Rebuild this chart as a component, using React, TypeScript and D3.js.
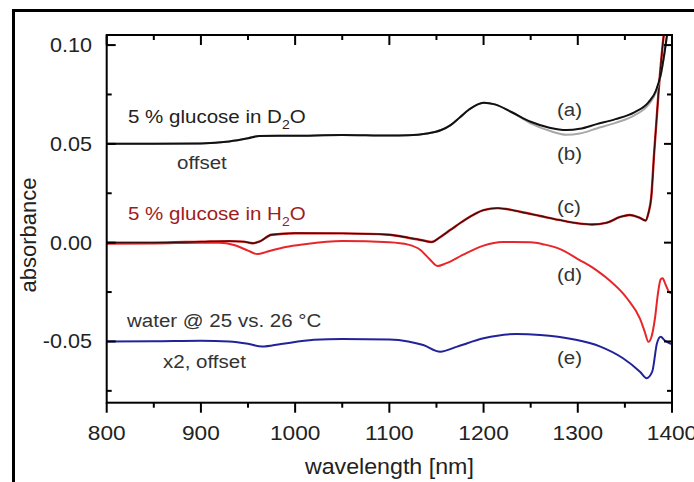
import React from 'react';
import * as d3 from 'd3';

// ---- data (wavelength in nm, absorbance) ----
const aNm = [800, 850, 900, 930, 950, 962, 1000, 1050, 1100, 1120, 1140, 1155, 1165, 1175, 1185, 1200, 1212, 1230, 1250, 1270, 1288, 1302, 1320, 1340, 1360, 1375, 1383, 1388, 1392, 1395, 1397];
const aAbs = [0.0500, 0.0500, 0.0502, 0.0512, 0.0528, 0.0540, 0.0541, 0.0545, 0.0542, 0.0543, 0.0552, 0.0570, 0.0595, 0.0635, 0.0675, 0.0708, 0.0700, 0.0660, 0.0612, 0.0582, 0.0570, 0.0576, 0.0600, 0.0625, 0.0660, 0.0710, 0.0770, 0.0850, 0.0960, 0.1060, 0.1120];

const bNm = [800, 850, 900, 930, 950, 962, 1000, 1050, 1100, 1120, 1140, 1155, 1165, 1175, 1185, 1200, 1212, 1230, 1250, 1270, 1288, 1302, 1320, 1340, 1360, 1375, 1383, 1388, 1392, 1395, 1397];
const bAbs = [0.0500, 0.0500, 0.0502, 0.0512, 0.0528, 0.0540, 0.0541, 0.0545, 0.0542, 0.0543, 0.0552, 0.0570, 0.0595, 0.0635, 0.0675, 0.0708, 0.0700, 0.0660, 0.0604, 0.0566, 0.0546, 0.0552, 0.0578, 0.0606, 0.0644, 0.0698, 0.0762, 0.0845, 0.0958, 0.1060, 0.1120];

const cNm = [800, 850, 900, 930, 945, 955, 962, 975, 1000, 1050, 1100, 1120, 1135, 1145, 1153, 1165, 1180, 1200, 1215, 1240, 1260, 1280, 1300, 1315, 1330, 1345, 1355, 1366, 1372, 1375, 1378, 1381, 1386, 1391, 1394];
const cAbs = [0.0000, 0.0000, 0.0005, 0.0008, 0.0005, -0.0003, 0.0005, 0.0040, 0.0048, 0.0047, 0.0040, 0.0025, 0.0012, 0.0003, 0.0025, 0.0065, 0.0115, 0.0165, 0.0175, 0.0155, 0.0135, 0.0115, 0.0098, 0.0092, 0.0100, 0.0130, 0.0140, 0.0125, 0.0112, 0.0150, 0.0230, 0.0450, 0.0780, 0.1040, 0.1150];

const dNm = [800, 850, 900, 920, 935, 950, 960, 970, 990, 1010, 1050, 1100, 1120, 1133, 1143, 1151, 1160, 1178, 1200, 1220, 1250, 1265, 1280, 1302, 1320, 1331, 1352, 1366, 1371, 1375, 1378, 1382, 1385, 1388, 1390, 1393, 1397, 1400];
const dAbs = [-0.0005, -0.0004, 0.0000, 0.0000, -0.0012, -0.0040, -0.0058, -0.0046, -0.0022, -0.0008, 0.0008, 0.0002, -0.0010, -0.0037, -0.0085, -0.0118, -0.0105, -0.0062, -0.0015, 0.0003, 0.0002, -0.0010, -0.0030, -0.0088, -0.0140, -0.0180, -0.0280, -0.0385, -0.0450, -0.0502, -0.0480, -0.0380, -0.0260, -0.0185, -0.0180, -0.0210, -0.0250, -0.0258];

const eNm = [800, 850, 900, 930, 950, 965, 985, 1020, 1050, 1100, 1120, 1136, 1154, 1172, 1200, 1235, 1260, 1295, 1324, 1348, 1366, 1373, 1379, 1384, 1388, 1392, 1398, 1400];
const eAbs = [-0.0500, -0.0499, -0.0496, -0.0500, -0.0512, -0.0526, -0.0513, -0.0492, -0.0487, -0.0490, -0.0500, -0.0518, -0.0552, -0.0526, -0.0484, -0.0462, -0.0467, -0.0489, -0.0526, -0.0585, -0.0653, -0.0686, -0.0653, -0.0510, -0.0476, -0.0494, -0.0510, -0.0512];

const xMajor = [800, 900, 1000, 1100, 1200, 1300, 1400];
const xMinor = [850, 950, 1050, 1150, 1250, 1350];
const yMajor = [-0.05, 0, 0.05, 0.1];
const yMinor = [-0.075, -0.025, 0.025, 0.075];
const yLabels = ['-0.05', '0.00', '0.05', '0.10'];

const X0 = 106.7, X1 = 672, Y0 = 35, Y1 = 402.7;
const FONT = '"Liberation Sans", Arial, Helvetica, sans-serif';
const SX = 1.08;

function T({ x, y, size, fill = '#222', anchor = 'start', children }: any) {
  return (
    <text transform={`translate(${x},${y}) scale(${SX},1)`} fontSize={size} fill={fill}
      textAnchor={anchor} fontFamily={FONT}>{children}</text>
  );
}

export default function App() {
  const x = d3.scaleLinear().domain([800, 1400]).range([X0, X1]);
  const y = d3.scaleLinear().domain([-0.081, 0.1051]).range([Y1, Y0]);
  const line = (nm: number[], ab: number[]) =>
    d3.line<number>().x((_, i) => x(nm[i])).y((v) => y(v)).curve(d3.curveMonotoneX)(ab) || '';

  return (
    <svg width={694} height={482} style={{ position: 'absolute', left: 0, top: 0, background: '#fff' }}>
      <defs>
        <clipPath id="plot"><rect x={X0} y={Y0} width={X1 - X0} height={Y1 - Y0} /></clipPath>
      </defs>
      {/* outer frame */}
      <path d="M13.5,482 V10.5 H694" fill="none" stroke="#000" strokeWidth={3} />

      <g clipPath="url(#plot)" fill="none" strokeLinejoin="round">
        <path d={line(eNm, eAbs)} stroke="#22229a" strokeWidth={2} />
        <path d={line(dNm, dAbs)} stroke="#e8262a" strokeWidth={2} />
        <path d={line(cNm, cAbs)} stroke="#d42020" strokeWidth={2.4} />
        <path d={line(cNm, cAbs)} stroke="#3a0c0c" strokeWidth={1.3} />
        <path d={line(bNm, bAbs)} stroke="#a8a8a8" strokeWidth={2} />
        <path d={line(aNm, aAbs)} stroke="#111" strokeWidth={2} />
      </g>

      {/* axes box */}
      <rect x={X0} y={Y0} width={X1 - X0} height={Y1 - Y0} fill="none" stroke="#000" strokeWidth={2} />
      {xMajor.map((v) => (
        <g key={'xM' + v} stroke="#000" strokeWidth={2}>
          <line x1={x(v)} x2={x(v)} y1={Y1} y2={Y1 + 10} />
          <line x1={x(v)} x2={x(v)} y1={Y0} y2={Y0 + 10} />
        </g>
      ))}
      {xMinor.map((v) => (
        <g key={'xm' + v} stroke="#000" strokeWidth={2}>
          <line x1={x(v)} x2={x(v)} y1={Y1} y2={Y1 + 5} />
          <line x1={x(v)} x2={x(v)} y1={Y0} y2={Y0 + 5} />
        </g>
      ))}
      {yMajor.map((v) => (
        <g key={'yM' + v} stroke="#000" strokeWidth={2}>
          <line x1={X0} x2={X0 + 9} y1={y(v)} y2={y(v)} />
          <line x1={X1} x2={X1 - 8} y1={y(v)} y2={y(v)} />
        </g>
      ))}
      {yMinor.map((v) => (
        <g key={'ym' + v} stroke="#000" strokeWidth={2}>
          <line x1={X0} x2={X0 + 5} y1={y(v)} y2={y(v)} />
          <line x1={X1} x2={X1 - 5} y1={y(v)} y2={y(v)} />
        </g>
      ))}

      {xMajor.map((v) => (
        <T key={'xl' + v} x={x(v)} y={440} size={21} anchor="middle">{String(v)}</T>
      ))}
      {yMajor.map((v, i) => (
        <T key={'yl' + v} x={92} y={y(v) + 7} size={20} anchor="end">{yLabels[i]}</T>
      ))}

      <T x={(X0 + X1) / 2} y={474} size={21.5} anchor="middle">wavelength [nm]</T>
      <text transform={`translate(36,235) rotate(-90)`} fontSize={22} fill="#222" textAnchor="middle" fontFamily={FONT}>absorbance</text>

      {/* annotations */}
      <T x={128} y={123} size={19} fill="#222">5 % glucose in D<tspan dy={6} fontSize={13}>2</tspan><tspan dy={-6}>O</tspan></T>
      <T x={177} y={169} size={19} fill="#333">offset</T>
      <T x={128} y={220} size={19} fill="#a01c1c">5 % glucose in H<tspan dy={6} fontSize={13}>2</tspan><tspan dy={-6}>O</tspan></T>
      <T x={127} y={327} size={19} fill="#333">water @ 25 vs. 26 °C</T>
      <T x={163} y={368} size={19} fill="#333">x2, offset</T>
      <T x={557} y={116} size={19} fill="#333">(a)</T>
      <T x={557} y={160} size={19} fill="#333">(b)</T>
      <T x={557} y={213} size={19} fill="#333">(c)</T>
      <T x={557} y={281} size={19} fill="#333">(d)</T>
      <T x={557} y={364} size={19} fill="#333">(e)</T>
    </svg>
  );
}
